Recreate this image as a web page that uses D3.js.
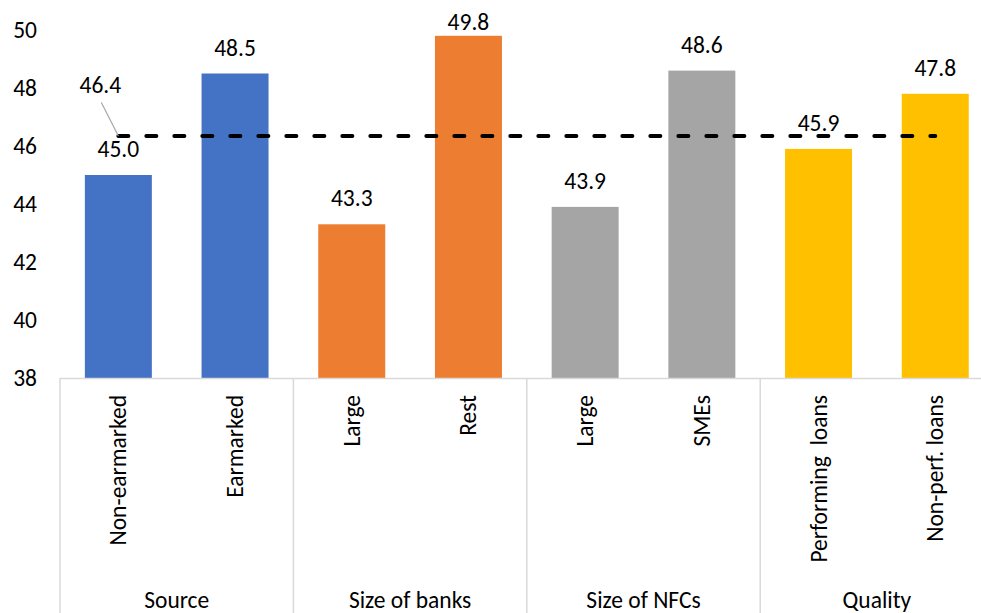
<!DOCTYPE html>
<html>
<head>
<meta charset="utf-8">
<script src="https://cdn.jsdelivr.net/npm/d3@7/dist/d3.min.js"></script>
<style>
  html, body { margin: 0; padding: 0; background: #fff; }
  svg { display: block; }
  text { font-family: Carlito, Calibri, Lato, "Open Sans", sans-serif; fill: #000; }
</style>
</head>
<body>
<svg id="chart" width="981" height="613"></svg>
<script>
// Categories, their groups and values
const categories = ["Non-earmarked", "Earmarked", "Large", "Rest", "Large", "SMEs", "Performing  loans", "Non-perf. loans"];
const groups = ["Source", "Size of banks", "Size of NFCs", "Quality"];
const groupOf = [0, 0, 1, 1, 2, 2, 3, 3];
const values = [45.0, 48.5, 43.3, 49.8, 43.9, 48.6, 45.9, 47.8];
const groupColors = ["#4472C4", "#ED7D31", "#A5A5A5", "#FFC000"];
const averageValue = 46.4;
const yTicks = [38, 40, 42, 44, 46, 48, 50];

const svg = d3.select("#chart");
const plotLeft = 60, plotRight = 993.6, plotTop = 30, plotBottom = 378;
const fontSize = "23.5px";

const x = d3.scaleBand()
  .domain(d3.range(categories.length))
  .range([plotLeft, plotRight])
  .paddingInner(0.426)
  .paddingOuter(0.213);

const y = d3.scaleLinear().domain([38, 50]).range([plotBottom, plotTop]);

// Y tick labels (no axis line)
const yAxis = svg.append("g")
  .attr("transform", `translate(${plotLeft},0)`)
  .call(d3.axisLeft(y).tickValues(yTicks).tickSize(0).tickPadding(23).tickFormat(d3.format("d")));
yAxis.select(".domain").remove();
yAxis.selectAll("text").style("font-size", fontSize).style("font-family", "Carlito, Calibri, Lato, sans-serif");

// Bars
svg.append("g").selectAll("rect")
  .data(values)
  .join("rect")
  .attr("x", (d, i) => x(i))
  .attr("width", x.bandwidth())
  .attr("y", d => y(d))
  .attr("height", d => y(38) - y(d))
  .attr("fill", (d, i) => groupColors[groupOf[i]]);

// Value labels, kept inside the top of the chart area
svg.append("g").selectAll("text")
  .data(values)
  .join("text")
  .attr("x", (d, i) => x(i) + x.bandwidth() / 2)
  .attr("y", d => Math.max(y(d) - 18, 29.5))
  .attr("text-anchor", "middle")
  .style("font-size", fontSize)
  .text(d => d.toFixed(1));

// Category axis frame
const axisColor = "#d9d9d9";
svg.append("line")
  .attr("x1", plotLeft).attr("x2", plotRight)
  .attr("y1", plotBottom + 0.5).attr("y2", plotBottom + 0.5)
  .attr("stroke", axisColor).attr("stroke-width", 1.5);

const groupEdges = d3.range(groups.length + 1).map(g => plotLeft + g * 2 * x.step());
svg.append("g").selectAll("line")
  .data(groupEdges)
  .join("line")
  .attr("x1", d => d).attr("x2", d => d)
  .attr("y1", plotBottom).attr("y2", 613)
  .attr("stroke", axisColor).attr("stroke-width", 1.5);

// Rotated category labels
svg.append("g").selectAll("text")
  .data(categories)
  .join("text")
  .attr("transform", (d, i) => `translate(${x(i) + x.bandwidth() / 2 + 8},${plotBottom + 17}) rotate(-90)`)
  .attr("text-anchor", "end")
  .style("font-size", fontSize)
  .style("white-space", "pre")
  .text(d => d);

// Group labels
svg.append("g").selectAll("text")
  .data(groups)
  .join("text")
  .attr("x", (d, g) => plotLeft + (g + 0.5) * 2 * x.step())
  .attr("y", 608)
  .attr("text-anchor", "middle")
  .style("font-size", fontSize)
  .text(d => d);

// Average line
const xStart = x(0) + x.bandwidth() / 2;
const xEnd = x(categories.length - 1) + x.bandwidth() / 2;
svg.append("line")
  .attr("x1", xStart).attr("x2", xEnd)
  .attr("y1", y(averageValue) + 1.5).attr("y2", y(averageValue) + 1.5)
  .attr("stroke", "#000").attr("stroke-width", 4)
  .attr("stroke-linecap", "round")
  .attr("stroke-dasharray", "10,18");

// Average label with leader
svg.append("line")
  .attr("x1", xStart - 17).attr("x2", xStart)
  .attr("y1", y(averageValue) - 32).attr("y2", y(averageValue) + 1.5)
  .attr("stroke", "#a6a6a6").attr("stroke-width", 1.2);
svg.append("text")
  .attr("x", xStart - 18)
  .attr("y", y(averageValue) - 41)
  .attr("text-anchor", "middle")
  .style("font-size", fontSize)
  .text(averageValue.toFixed(1));
</script>
</body>
</html>
